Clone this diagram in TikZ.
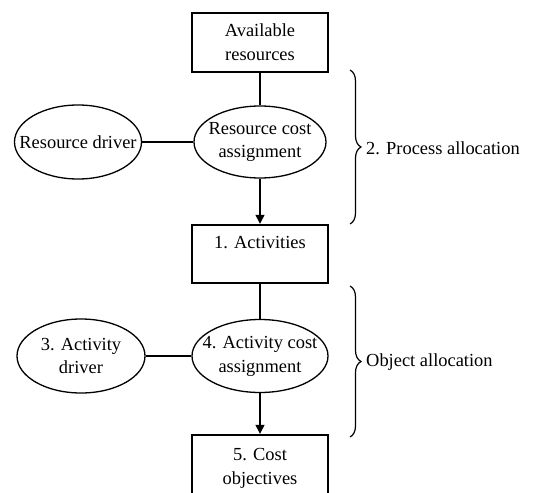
\documentclass[tikz,border=0pt]{standalone}
\usepackage{fontspec}
\setmainfont{Liberation Serif}
\usetikzlibrary{arrows.meta,shapes.geometric,decorations.pathreplacing}

\tikzset{
  base/.style={font=\fontsize{18.5}{24}\selectfont, align=center, inner sep=0pt},
  stepbox/.style={base, draw, line width=2.4bp, rectangle, minimum width=136bp},
  oval/.style={draw, line width=1.3bp, ellipse, inner sep=0pt},
  inside/.style={label={[base]center:{#1}}},
  link/.style={line width=1.3bp},
  flow/.style={line width=1.3bp, -{Triangle[length=9bp,width=9bp]}},
  curly/.style={line width=1.2bp, decorate, decoration={brace, amplitude=11bp}},
  tag/.style={base, anchor=west}
}

\begin{document}
\begin{tikzpicture}[x=1bp,y=-1bp]
  \useasboundingbox (0,0) rectangle (534,493);
  \clip (0,0) rectangle (534,493);
  \fill[white] (0,0) rectangle (534,493);

  % boxes of the main flow
  \node[stepbox, minimum height=59bp] (avail) at (260,42.5) {Available\\resources};
  \node[stepbox, minimum height=58bp] (act) at (260,254) {1. Activities\\\mbox{}};
  \node[stepbox, minimum height=66bp] (cost) at (260,468) {5. Cost\\objectives};

  % cost assignment ellipses
  \node[oval, minimum width=132bp, minimum height=72bp,
        inside={Resource cost\\assignment}] (rca) at (260,142) {};
  \node[oval, minimum width=136bp, minimum height=73bp,
        inside={4. Activity cost\\assignment}] (aca) at (260,356) {};

  % driver ellipses
  \node[oval, minimum width=127bp, minimum height=74bp,
        inside={Resource driver}] (rdrv) at (78,142) {};
  \node[oval, minimum width=128bp, minimum height=74bp,
        inside={3. Activity\\driver}] (adrv) at (81,356) {};

  % connectors
  \draw[link] (avail) -- (rca);
  \draw[flow] (rca) -- (act);
  \draw[link] (rdrv) -- (rca);
  \draw[link] (act) -- (aca);
  \draw[flow] (aca) -- (cost);
  \draw[link] (adrv) -- (aca);

  % allocation stages
  \coordinate (p1) at (350,70);
  \coordinate (p2) at (350,224);
  \coordinate (o1) at (350,286);
  \coordinate (o2) at (350,437);
  \draw[curly] (p1) -- (p2);
  \draw[curly] (o1) -- (o2);
  \node[tag] (ptag) at (366,148) {2. Process allocation};
  \node[tag] (otag) at (366,362) {Object allocation};
\end{tikzpicture}
\end{document}
